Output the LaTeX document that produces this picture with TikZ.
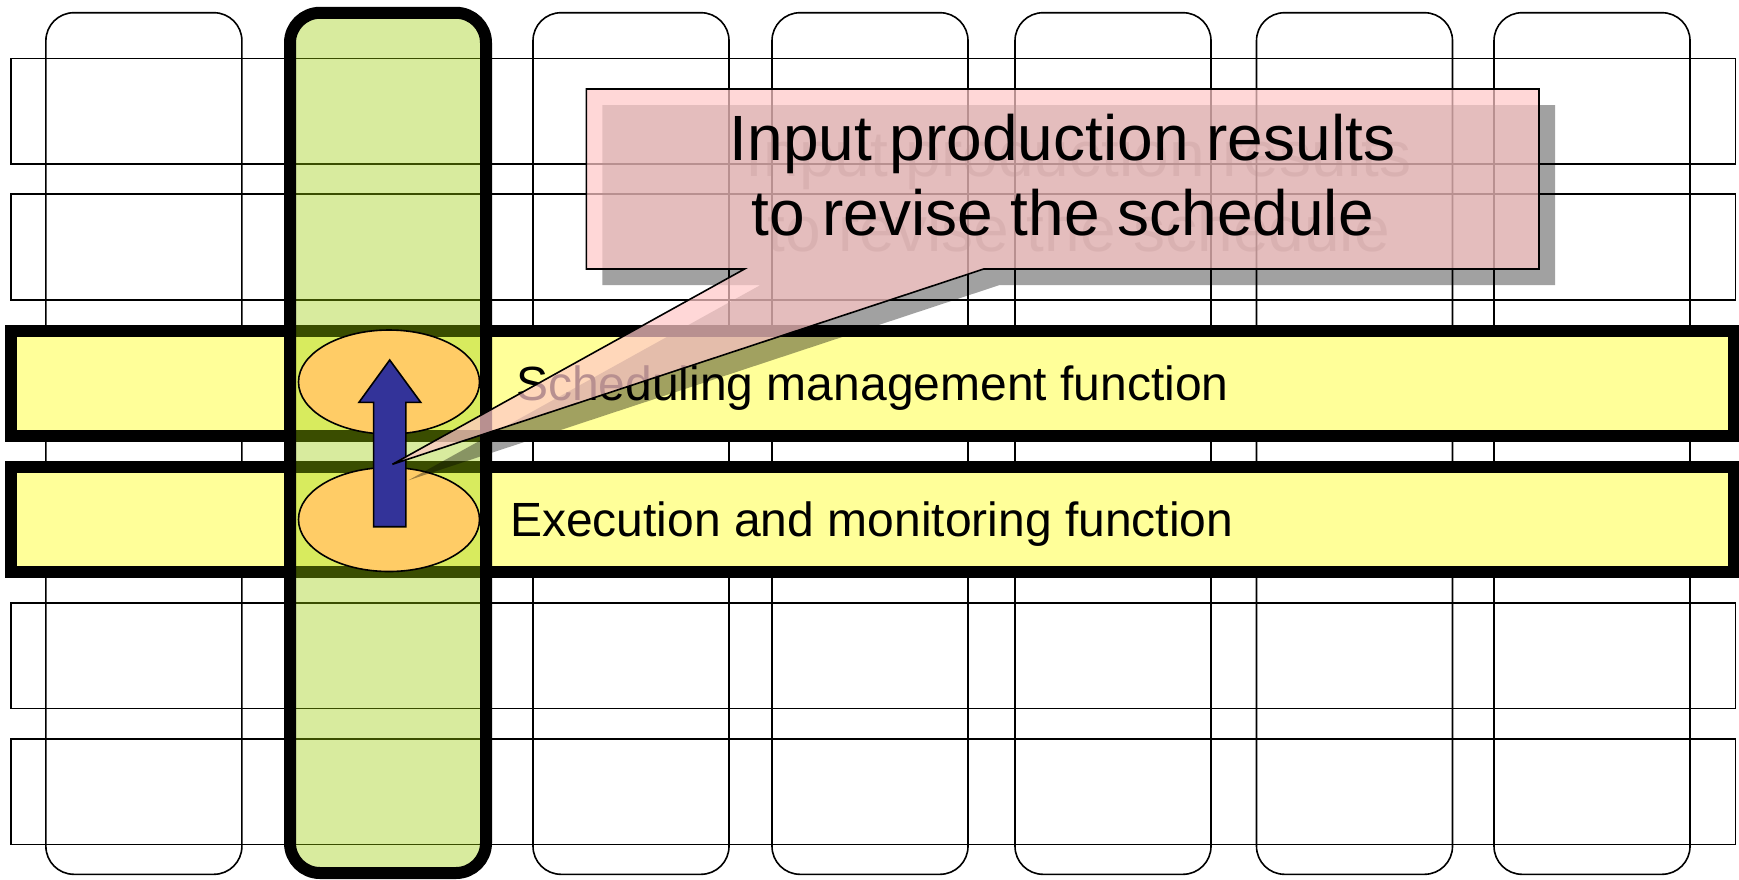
\documentclass[tikz,border=0pt]{standalone}
\usepackage{fontspec}
\setmainfont{Liberation Sans}
\usetikzlibrary{shapes.geometric}
\definecolor{bandyellow}{HTML}{FFFF99}
\definecolor{colgreen}{HTML}{99CC00}
\definecolor{ellorange}{HTML}{FFCC66}
\definecolor{arrblue}{HTML}{333399}
\definecolor{calloutpink}{RGB}{255,200,200}
\tikzset{
  colbox/.style={draw=black, line width=1.6, rounded corners=28pt},
  rowbox/.style={draw=black, line width=1.6},
  bandbox/.style={draw=black, line width=12, fill=bandyellow},
  greencol/.style={draw=black, line width=12, fill=colgreen, fill opacity=0.38, rounded corners=30pt},
  bandtext/.style={anchor=base west, inner sep=0pt, font=\fontsize{48}{58}\selectfont},
  ellbox/.style={ellipse, draw=black, line width=1.6, fill=ellorange, minimum width=181pt, minimum height=104pt, inner sep=0pt},
  blockarrow/.style={draw=black, line width=1.6, fill=arrblue},
  shadowshape/.style={fill=black, fill opacity=0.37},
  calloutshape/.style={draw=black, line width=1.6, fill=calloutpink, fill opacity=0.72},
  callouttext/.style={anchor=base, inner sep=0pt, font=\fontsize{64}{75}\selectfont},
  ghosttext/.style={callouttext, text=black, text opacity=0.25}
}
\begin{document}
\begin{tikzpicture}[x=1pt,y=-1pt]
\useasboundingbox (0,0) rectangle (1739,879);
\fill[white] (0,0) rectangle (1739,879);

% thin columns
\foreach \x in {45.9,533,772,1015,1256.5,1494}
  \draw[colbox] (\x,12.7) rectangle ++(196,861.6);

% thin rows
\foreach \y in {58.3,194,602.7,738.7}
  \draw[rowbox] (10.7,\y) rectangle (1735.6,\y+105.7);

% yellow bands
\draw[bandbox] (11,330.5) rectangle (1733.5,436);
\draw[bandbox] (11,466.7) rectangle (1733.5,572);

% highlighted green column
\draw[greencol] (290,12.8) rectangle (486,873);

% band texts
\node[bandtext] (sched) at (516,400) {Scheduling management function};
\node[bandtext] (exec) at (510,536) {Execution and monitoring function};

% ellipses
\node[ellbox] (e1) at (389,382) {};
\node[ellbox] (e2) at (389,519.5) {};

% block arrow
\coordinate (tip) at (389.7,360);
\draw[blockarrow] (tip) -- ++(31,42.3) -- ++(-14.9,0) -- ++(0,124.4) -- ++(-32.2,0)
  -- ++(0,-124.4) -- ++(-14.6,0) -- cycle;

% callout shadow
\coordinate (ptip) at (392.4,464.3);
\fill[shadowshape] (602.4,105) -- (1555,105) -- (1555,285) -- (999.7,285)
  -- ([shift={(16,16)}]ptip) -- (760.5,285) -- (602.4,285) -- cycle;
\node[ghosttext] (g1) at (1078.5,176) {Input production results};
\node[ghosttext] (g2) at (1078.5,251) {to revise the schedule};

% callout
\draw[calloutshape] (586.4,89) -- (1539,89) -- (1539,269) -- (983.7,269)
  -- (ptip) -- (744.5,269) -- (586.4,269) -- cycle;
\node[callouttext] (c1) at (1062.5,160) {Input production results};
\node[callouttext] (c2) at (1062.5,235) {to revise the schedule};
\end{tikzpicture}
\end{document}
